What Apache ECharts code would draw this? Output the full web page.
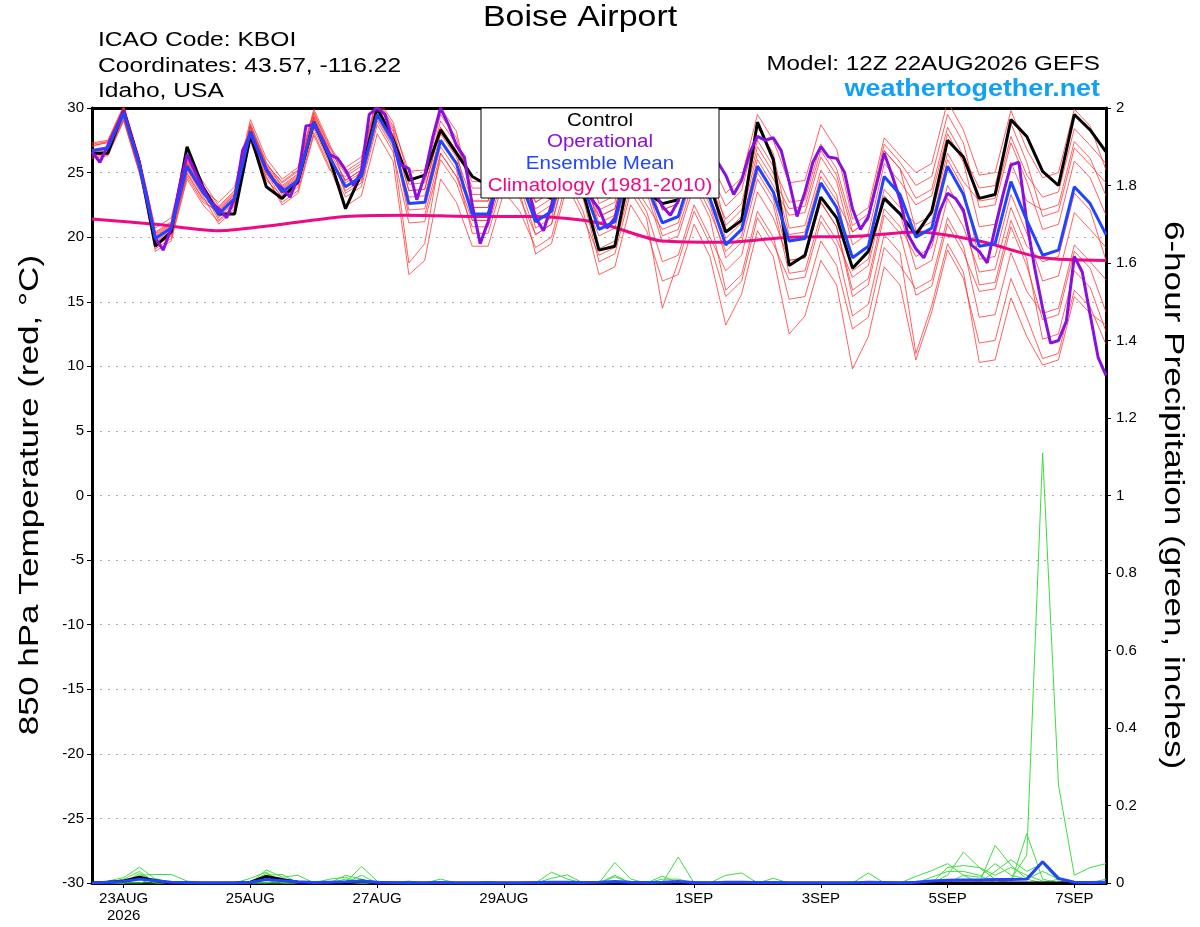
<!DOCTYPE html>
<html><head><meta charset="utf-8">
<script src="https://cdn.jsdelivr.net/npm/echarts@6/dist/echarts.min.js"></script>
<style>html,body{margin:0;padding:0;background:#fff}#c{width:1200px;height:927px}</style>
</head><body><div id="c"></div>
<script>
// time axis: hours relative to 23AUG2026 00Z (6-hourly from 22AUG 12Z)
const hours = Array.from({length:65},(_,i)=>-12+6*i);
const opHours = Array.from({length:129},(_,i)=>-12+3*i);
const climHours = Array.from({length:17},(_,i)=>-12+24*i);
const tickHours = [0,48,96,144,216,264,312,360];
const tickLabels = ['23AUG\n2026','25AUG','27AUG','29AUG','1SEP','3SEP','5SEP','7SEP'];

const controlT = [26.5,26.5,29.8,25.7, 19.3,20.4,27.0,23.9, 21.8,21.8,27.9,23.9, 23.0,24.3,28.9,26.1,
  22.2,24.9,30.0,27.6, 24.4,24.8,28.3,26.5, 24.7,24.0,26.0,24.5, 23.5,23.0,26.0,23.5,
  19.0,19.3,25.5,23.5, 22.6,22.9,26.0,24.0, 20.4,21.3,28.9,26.0, 17.8,18.6,23.1,21.5,
  17.6,18.9,23.0,21.8, 20.2,22.0,27.5,26.2, 23.0,23.3,29.1,27.8, 25.1,24.0,29.5,28.3, 26.6];
const meanT = [26.7,26.9,29.6,25.5, 19.9,20.7,25.5,23.5, 21.8,23.0,28.2,25.2, 23.5,24.4,28.9,26.2,
  23.9,24.7,29.5,27.4, 22.6,22.7,27.5,25.7, 21.8,21.8,26.0,24.5, 21.2,22.0,26.5,24.0,
  20.6,21.2,26.0,24.0, 21.1,21.6,25.5,23.0, 19.4,20.6,25.5,23.5, 19.7,19.9,24.2,22.3,
  18.4,19.3,24.7,23.3, 20.0,20.7,25.5,23.3, 19.3,19.5,24.3,21.3, 18.6,19.0,23.9,22.6, 20.2];
const operT = [26.6,25.8,27.1,28.4,29.8,27.7,25.7,23.0, 19.9,19.0,20.7,23.8,26.4,25.1,23.8,22.7,
  22.2,21.5,23.0,26.7,28.0,26.6,25.3,24.3, 23.8,23.1,24.6,28.6,28.7,27.7,26.4,26.1,
  25.2,24.0,25.1,29.5,30.0,29.5,27.4,25.6, 25.3,22.9,24.8,27.7,30.0,28.7,27.1,26.2,
  22.5,19.5,21.2,23.8,26.0,27.0,26.0,24.0, 21.5,20.5,22.5,25.0,26.5,26.0,24.5,23.0,
  22.2,20.7,21.5,24.0,26.0,26.5,25.0,23.5, 22.4,21.7,22.8,25.0,26.5,27.0,26.5,25.8,
  24.8,23.3,24.4,26.5,27.8,27.5,27.7,26.7, 24.3,21.6,23.5,25.8,27.0,26.2,26.1,25.0,
  22.2,20.6,21.6,24.0,26.5,24.8,22.9,20.2, 19.1,18.4,19.8,22.0,23.4,23.0,22.1,19.4,
  18.9,18.0,20.7,23.3,25.6,25.8,21.2,17.6, 14.5,11.8,12.0,13.5,18.5,17.3,14.0,10.7, 9.3];
const climT = [21.4,21.0,20.5,21.0,21.6,21.7,21.6,21.6,21.1,19.7,19.6,20.0,20.05,20.4,19.7,18.4,18.2];

const mem01 = [27.0,27.4,29.9,26.0, 19.4,20.2,25.0,23.0, 22.1,23.3,28.5,25.5, 24.0,24.9,29.4,26.7, 24.9,25.7,30.5,28.4, 24.1,24.2,29.0,27.2, 23.8,23.8,28.0,26.5, 22.7,23.5,28.0,25.5, 21.6,22.2,27.0,25.0, 23.1,23.6,27.5,25.0, 22.4,23.6,28.5,26.5, 20.7,20.9,25.2,23.3, 17.4,18.3,23.7,22.3, 21.0,21.7,26.5,24.3, 22.8,23.0,27.8,24.8, 23.1,23.5,28.4,27.1, 25.7];
const mem02 = [26.3,26.5,29.2,25.1, 18.9,19.7,24.5,22.5, 21.2,22.4,27.6,24.6, 22.7,23.6,28.1,25.4, 22.4,23.2,28.0,25.9, 17.1,18.2,24.5,22.7, 19.3,19.3,23.5,22.0, 19.2,20.0,24.5,22.0, 17.1,17.7,22.5,20.5, 16.6,17.1,21.0,18.5, 13.2,15.6,20.5,18.5, 12.5,13.9,18.2,16.3, 9.8,12.3,17.7,16.3, 10.5,14.2,19.0,16.8, 11.8,12.0,16.8,13.8, 10.6,11.0,15.9,14.6, 11.7];
const mem03 = [27.2,27.4,30.1,26.0, 20.7,21.5,26.3,24.3, 22.4,23.6,28.8,25.8, 23.9,24.8,29.3,26.6, 24.4,25.2,30.0,27.9, 23.6,23.7,28.5,26.7, 21.3,21.3,25.5,24.0, 21.7,22.5,27.0,24.5, 22.1,22.7,27.5,25.5, 22.1,22.6,26.5,24.0, 21.4,22.6,27.5,25.5, 22.7,22.9,27.2,25.3, 20.9,21.8,27.2,25.8, 24.0,24.7,29.5,27.3, 22.3,22.5,27.3,24.3, 20.6,21.0,25.9,24.6, 21.7];
const mem04 = [26.5,26.7,29.4,25.3, 20.2,21.0,25.8,23.8, 21.5,22.7,27.9,24.9, 23.0,23.9,28.4,25.7, 23.1,23.9,28.7,26.6, 21.1,21.2,26.0,24.2, 20.8,20.8,25.0,23.5, 18.7,19.5,24.0,21.5, 18.6,19.2,24.0,22.0, 18.1,18.6,22.5,20.0, 17.4,18.6,23.5,21.5, 18.2,18.4,22.7,20.8, 15.4,16.3,21.7,20.3, 15.5,16.2,21.0,18.8, 15.8,16.0,20.8,17.8, 13.6,14.0,18.9,17.6, 14.2];
const mem05 = [26.8,27.0,29.7,25.6, 20.4,21.2,26.0,24.0, 22.2,23.4,28.6,25.6, 24.3,25.2,29.7,27.0, 25.4,26.2,30.8,28.9, 24.6,24.7,29.5,27.7, 23.3,23.3,27.5,26.0, 23.7,24.5,29.0,26.5, 22.6,23.2,28.0,26.0, 22.1,22.6,26.5,24.0, 19.9,21.1,26.0,24.0, 21.7,21.9,26.2,24.3, 19.4,20.3,25.7,24.3, 22.5,23.2,28.0,25.8, 20.8,21.0,25.8,22.8, 22.1,22.5,27.4,26.1, 23.2];
const mem06 = [26.2,26.4,29.1,25.0, 19.6,20.4,25.2,23.2, 21.0,22.2,27.4,24.4, 23.2,24.1,28.6,25.9, 24.4,25.2,30.0,27.9, 22.1,22.2,27.0,25.2, 20.3,20.3,24.5,23.0, 20.2,21.0,25.5,23.0, 20.1,20.7,25.5,23.5, 19.6,20.1,24.0,21.5, 15.9,17.1,22.0,20.0, 15.2,15.4,19.7,17.8, 12.9,13.8,19.2,17.8, 16.0,16.7,21.5,19.3, 13.8,14.0,18.8,15.8, 14.1,14.5,19.4,18.1, 16.7];
const mem07 = [27.1,27.3,30.0,25.9, 20.1,20.9,25.7,23.7, 22.7,23.9,29.1,26.1, 24.5,25.4,29.9,27.2, 24.2,25.0,29.8,27.7, 21.6,21.7,26.5,24.7, 22.3,22.3,26.5,25.0, 22.2,23.0,27.5,25.0, 21.1,21.7,26.5,24.5, 23.6,24.1,28.0,25.5, 20.9,22.1,27.0,25.0, 20.2,20.4,24.7,22.8, 20.4,21.3,26.7,25.3, 20.5,21.2,26.0,23.8, 18.3,18.5,23.3,20.3, 16.6,17.0,21.9,20.6, 19.2];
const mem08 = [26.4,26.6,29.3,25.2, 19.3,20.1,24.9,22.9, 21.8,23.0,28.2,25.2, 23.7,24.6,29.1,26.4, 23.6,24.4,29.2,27.1, 23.1,23.2,28.0,26.2, 22.8,22.8,27.0,25.5, 20.7,21.5,26.0,23.5, 19.1,19.7,24.5,22.5, 20.6,21.1,25.0,22.5, 18.4,19.6,24.5,22.5, 17.2,17.4,21.7,19.8, 16.9,17.8,23.2,21.8, 17.5,18.2,23.0,20.8, 17.3,17.5,22.3,19.3, 18.1,18.5,23.4,22.1, 18.2];
const mem09 = [26.6,26.8,29.5,25.4, 19.7,20.5,25.3,23.3, 22.3,23.5,28.7,25.7, 24.2,25.1,29.6,26.9, 25.1,25.9,30.7,28.6, 25.1,25.2,30.0,28.2, 22.8,22.8,27.0,25.5, 21.2,22.0,26.5,24.0, 21.6,22.2,27.0,25.0, 21.1,21.6,25.5,23.0, 20.4,21.6,26.5,24.5, 22.2,22.4,26.7,24.8, 20.4,21.3,26.7,25.3, 23.0,23.7,28.5,26.3, 23.8,24.0,28.8,25.8, 21.6,22.0,26.9,25.6, 24.2];
const mem10 = [26.7,26.9,29.6,25.5, 20.3,21.1,25.9,23.9, 21.6,22.8,28.0,25.0, 23.3,24.2,28.7,26.0, 23.9,24.7,29.5,27.4, 22.6,22.7,27.5,25.7, 22.3,22.3,26.5,25.0, 22.7,23.5,28.0,25.5, 20.6,21.2,26.0,24.0, 20.1,20.6,24.5,22.0, 18.9,20.1,25.0,23.0, 18.2,18.4,22.7,20.8, 15.9,16.8,22.2,20.8, 18.5,19.2,24.0,21.8, 16.3,16.5,21.3,18.3, 12.1,12.5,17.4,16.1, 12.7];
const mem11 = [27.3,27.5,30.2,26.1, 19.1,19.9,24.7,22.7, 22.0,23.2,28.4,25.4, 23.8,24.7,29.2,26.5, 23.4,24.2,29.0,26.9, 18.0,19.5,26.5,24.7, 21.3,21.3,25.5,24.0, 20.2,21.0,25.5,23.0, 18.1,18.7,23.5,21.5, 14.5,18.1,22.0,19.5, 15.4,16.6,21.5,19.5, 16.7,16.9,21.2,19.3, 13.9,14.8,20.2,18.8, 11.0,14.7,19.5,17.3, 10.3,10.5,15.3,12.3, 10.1,10.5,15.4,14.1, 13.2];
const mem12 = [26.1,26.3,29.0,24.9, 20.0,20.8,25.6,23.6, 21.3,22.5,27.7,24.7, 22.5,23.4,27.9,25.2, 24.7,25.5,30.3,28.2, 23.6,23.7,28.5,26.7, 24.3,24.3,28.5,27.0, 23.2,24.0,28.5,26.0, 23.1,23.7,28.5,26.5, 24.1,24.6,28.5,26.0, 23.4,24.6,29.5,27.5, 24.2,24.4,28.7,26.8, 21.4,22.3,27.7,26.3, 25.0,25.7,30.5,28.3, 24.8,25.0,29.8,26.8, 24.6,25.0,29.9,28.6, 25.2];
const members = [mem01,mem02,mem03,mem04,mem05,mem06,mem07,mem08,mem09,mem10,mem11,mem12];

const controlP = [0,0.002,0.005,0.015,0.006,0,0,0, 0,0,0.002,0.017,0.009,0.002,0,0, 0,0.005,0,0,0,0,0,0,
  0,0,0,0,0,0,0,0, 0,0,0,0,0,0,0,0, 0,0,0,0,0,0,0,0, 0,0,0,0,0,0,0,0, 0,0,0,0,0,0,0,0, 0];
const meanP = [0,0.002,0.004,0.010,0.006,0.002,0.001,0, 0,0,0.002,0.009,0.006,0.003,0.001,0.002,
  0.003,0.005,0.002,0.001,0,0,0.001,0, 0,0,0,0,0.001,0.002,0.002,0.001, 0.002,0.004,0.002,0.001,0.002,0.004,0.001,0,
  0.002,0.002,0.001,0.001,0,0,0,0, 0,0.002,0.001,0,0.002,0.005,0.007,0.008, 0.008,0.009,0.009,0.010,0.055,0.012,0.002,0.001, 0.002];
const gp01 = [0,0.005,0.014,0.041,0.010,0,0,0, 0,0,0,0.020,0.010,0,0,0, 0,0.043,0.005,0,0,0,0,0, 0,0,0,0,0,0,0,0,
  0,0.053,0.010,0,0,0,0,0, 0,0,0,0,0,0,0,0, 0,0,0,0,0,0,0.020,0.080, 0.040,0.010,0,0,0,0.010,0,0, 0];
const gp02 = [0,0,0,0.012,0.008,0,0,0, 0,0,0,0,0,0,0,0, 0,0,0,0,0,0,0,0, 0,0,0,0,0,0.028,0.010,0,
  0,0,0,0,0.018,0,0,0, 0,0,0,0,0,0,0,0, 0,0,0,0,0,0,0,0, 0,0,0.010,0.072,1.110,0.253,0.020,0.040, 0.050];
const gp03 = [0,0,0,0.020,0.022,0.022,0.005,0, 0,0,0,0.034,0.015,0.020,0,0, 0.020,0.010,0,0,0,0,0,0, 0,0,0,0,0,0,0,0,
  0,0,0,0,0,0.067,0,0, 0.020,0.026,0,0,0,0,0,0, 0,0,0,0,0,0,0,0, 0,0.097,0.046,0.010,0,0,0,0, 0];
const gp04 = [0,0,0.010,0.030,0,0,0,0, 0,0,0.012,0.028,0,0,0,0.010, 0.015,0,0,0,0,0,0.010,0, 0,0,0,0,0,0,0,0,
  0,0.016,0,0,0,0,0,0, 0,0,0,0,0,0,0,0, 0,0.026,0,0,0.017,0.032,0.050,0.020, 0,0,0,0.127,0.010,0,0,0, 0];
const gp05 = [0,0,0,0.025,0,0,0,0, 0,0,0,0.020,0.022,0,0,0, 0,0,0,0,0,0,0,0, 0,0,0,0,0,0.012,0.021,0,
  0,0,0,0,0,0,0,0, 0,0,0,0.012,0,0,0,0, 0,0,0,0,0,0,0.040,0.045, 0.040,0.020,0.040,0.020,0.005,0,0,0, 0.010];
const gp06 = [0,0,0,0.015,0,0,0,0, 0,0,0,0,0,0,0,0, 0,0.020,0,0,0,0,0,0, 0,0,0,0,0,0,0,0,
  0,0,0,0,0.010,0.010,0,0, 0,0,0,0,0,0,0,0, 0,0,0,0,0,0,0,0.020, 0.015,0.050,0.020,0.010,0.030,0.010,0,0, 0];
const gp07 = [0,0.004,0,0,0,0,0,0, 0,0,0,0,0.010,0,0,0, 0.010,0,0,0,0.005,0,0,0, 0,0.004,0,0,0,0,0,0,
  0,0,0,0,0,0,0,0, 0,0,0,0,0,0,0,0, 0,0,0,0,0,0.015,0.030,0.030, 0.020,0,0,0,0,0,0,0, 0];
const gp08 = [0,0,0,0,0.012,0,0,0, 0,0,0,0.025,0,0,0,0, 0,0,0,0,0,0,0,0, 0,0,0,0,0,0,0,0,
  0,0.020,0,0,0,0,0,0, 0,0,0,0,0,0,0,0, 0,0,0,0,0,0,0,0, 0,0.030,0.060,0.030,0.050,0.005,0,0, 0];
const precipMembers = [gp01,gp02,gp03,gp04,gp05,gp06,gp07,gp08];

const pair = (xs, ys) => ys.map((v,i)=>[xs[i], v]);
const FONT = 'Liberation Sans, Arial, Helvetica, sans-serif';
const series = [];
members.forEach((m,i)=>series.push({name:'m'+i,type:'line',data:pair(hours,m),showSymbol:false,symbol:'none',
  lineStyle:{color:'rgba(255,45,45,0.75)',width:1},z:1,silent:true}));
precipMembers.forEach((m,i)=>series.push({name:'p'+i,type:'line',yAxisIndex:1,data:pair(hours,m),showSymbol:false,symbol:'none',
  lineStyle:{color:'#3fdc3f',width:1},z:2,silent:true}));
series.push({name:'Climatology',type:'line',data:pair(climHours,climT),showSymbol:false,symbol:'none',smooth:0.25,
  lineStyle:{color:'#ee0a84',width:3},z:3});
series.push({name:'ControlP',type:'line',yAxisIndex:1,data:pair(hours,controlP),showSymbol:false,symbol:'none',
  lineStyle:{color:'#000',width:3},z:4});
series.push({name:'MeanP',type:'line',yAxisIndex:1,data:pair(hours,meanP),showSymbol:false,symbol:'none',
  lineStyle:{color:'#2244ff',width:3},z:5});
series.push({name:'Control',type:'line',data:pair(hours,controlT),showSymbol:false,symbol:'none',
  lineStyle:{color:'#000',width:3},z:4});
series.push({name:'Operational',type:'line',data:pair(opHours,operT),showSymbol:false,symbol:'none',
  lineStyle:{color:'#8a10dd',width:3},z:5});
series.push({name:'Ensemble Mean',type:'line',data:pair(hours,meanT),showSymbol:false,symbol:'none',
  lineStyle:{color:'#2244ff',width:3},z:6});

const txt = (text, x, y, font, fill, align, sx, rot, z) => ({type:'text', x:x, y:y, z:z||100,
  scaleX:sx||1, rotation:rot||0,
  style:{text:text, x:0, y:0, textAlign:align||'left', textVerticalAlign:'middle', font:font, fill:fill||'#000'}});

const chart = echarts.init(document.getElementById('c'));
chart.setOption({
  animation:false,
  backgroundColor:'#fff',
  textStyle:{fontFamily:FONT},
  grid:{left:92,right:94,top:108,bottom:44,show:false,containLabel:false},
  xAxis:[{type:'value',min:-12,max:372,
    axisLine:{show:true,onZero:false,lineStyle:{color:'#000',width:3}},
    axisTick:{show:true,customValues:tickHours,length:5,lineStyle:{color:'#000',width:1}},
    axisLabel:{customValues:tickHours,color:'#000',fontSize:15,fontFamily:FONT,margin:7,lineHeight:17,
      formatter:(v)=>{const i=tickHours.indexOf(Math.round(v));return i>=0?tickLabels[i]:'';}},
    splitLine:{show:false}},
    {type:'value',position:'top',min:-12,max:372,
    axisLine:{show:true,onZero:false,lineStyle:{color:'#000',width:3}},
    axisTick:{show:false},axisLabel:{show:false},splitLine:{show:false}}],
  yAxis:[
    {type:'value',position:'left',min:-30,max:30,interval:5,
      axisLine:{show:true,onZero:false,lineStyle:{color:'#000',width:3}},
      axisTick:{show:true,length:5,lineStyle:{color:'#000',width:1}},
      axisLabel:{color:'#000',fontSize:15,fontFamily:FONT,margin:8},
      splitLine:{show:true,lineStyle:{color:'#aaa',width:1,type:[2,6]}}},
    {type:'value',position:'right',min:0,max:2,interval:0.2,
      axisLine:{show:true,onZero:false,lineStyle:{color:'#000',width:3}},
      axisTick:{show:true,length:5,lineStyle:{color:'#000',width:1}},
      axisLabel:{color:'#000',fontSize:15,fontFamily:FONT,margin:10,
        formatter:(v)=>String(Math.round(v*10)/10)},
      splitLine:{show:false}}
  ],
  series:series,
  graphic:[
    txt('Boise Airport',580,18,'29px '+FONT,'#000','center',1.17),
    txt('ICAO Code: KBOI',98,40,'20px '+FONT,'#000','left',1.23),
    txt('Coordinates: 43.57, -116.22',98,66,'20px '+FONT,'#000','left',1.23),
    txt('Idaho, USA',98,91,'20px '+FONT,'#000','left',1.23),
    txt('Model: 12Z 22AUG2026 GEFS',1100,64,'20px '+FONT,'#000','right',1.21),
    txt('weathertogether.net',1100,89,'bold 24px '+FONT,'#10a0f4','right',1.12),
    txt('850 hPa Temperature (red, °C)',31,495,'27px '+FONT,'#000','center',1.3,Math.PI/2),
    txt('6-hour Precipitation (green, inches)',1172,495,'27px '+FONT,'#000','center',1.3,-Math.PI/2),
    {type:'rect',z:100,shape:{x:481,y:108,width:238,height:90},style:{fill:'#fff',stroke:'#000',lineWidth:1}},
    txt('Control',600,121,'18px '+FONT,'#000','center',1.14,0,101),
    txt('Operational',600,142,'18px '+FONT,'#8a10dd','center',1.14,0,101),
    txt('Ensemble Mean',600,164,'18px '+FONT,'#2244ff','center',1.14,0,101),
    txt('Climatology (1981-2010)',600,186,'18px '+FONT,'#ee0a84','center',1.14,0,101)
  ]
});
</script></body></html>
